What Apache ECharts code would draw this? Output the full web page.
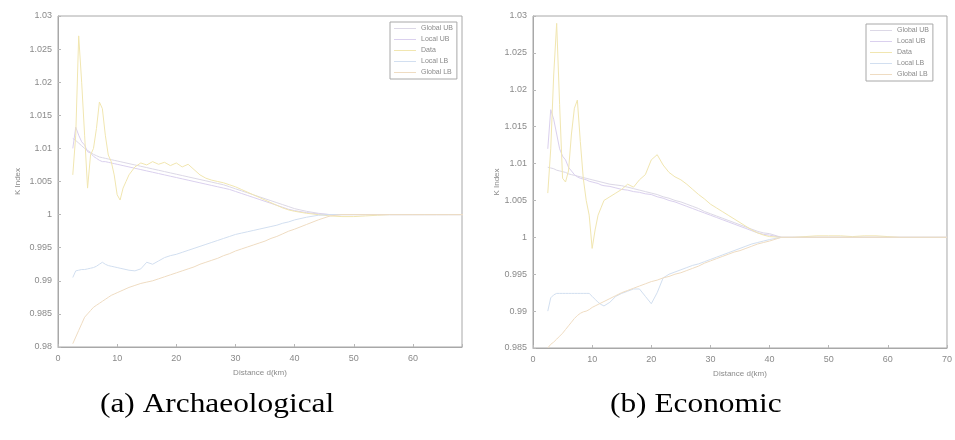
<!DOCTYPE html>
<html>
<head>
<meta charset="utf-8">
<script src="https://cdn.jsdelivr.net/npm/echarts@6/dist/echarts.min.js"></script>
<style>html,body{margin:0;padding:0;background:#fff;}#c{width:955px;height:440px;}</style>
</head>
<body>
<div id="c"></div>
<script>
const seriesNames = ['Global UB', 'Local UB', 'Data', 'Local LB', 'Global LB'];
const captions = ['(a) Archaeological', '(b) Economic'];
const xName = 'Distance d(km)';
const yName = 'K Index';

const dist = [2.5,3,3.5,4,4.5,5,5.5,6,6.5,7,7.5,8,8.5,9,9.5,10,10.5,11,11.5,12,
  13,14,15,16,17,18,19,20,21,22,23,24,25,26,27,28,29,30,31,32,33,34,35,36,37,38,39,40,
  42,44,46,48,50,52,54,56,58,60,62,64,66,68,70];

// (a) Archaeological
const globalUbA = [1.0115,1.0112,1.0108,1.0104,1.0100,1.0097,1.0094,1.0091,1.0089,1.0087,1.0086,1.0085,1.0084,1.0083,1.0082,1.0081,1.0080,1.0079,1.0078,1.0077,
  1.0075,1.0073,1.0071,1.0069,1.0067,1.0065,1.0063,1.0061,1.0059,1.0057,1.0055,1.0053,1.0051,1.0049,1.0047,1.0045,1.0042,1.0039,1.0036,1.0033,1.0030,1.0027,1.0024,1.0021,1.0018,1.0015,1.0012,1.0009,
  1.0005,1.0002,1.0,1.0,1.0,1.0,1.0,1.0,1.0,1.0,1.0,1.0,1.0,1.0,1.0];
const localUbA = [1.010,1.0132,1.012,1.011,1.0105,1.0095,1.0093,1.0088,1.0085,1.0082,1.0080,1.0080,1.0079,1.0078,1.0077,1.0076,1.0075,1.0074,1.0073,1.0072,
  1.0070,1.0068,1.0066,1.0064,1.0062,1.0060,1.0058,1.0056,1.0054,1.0052,1.0050,1.0048,1.0046,1.0044,1.0042,1.0040,1.0038,1.0035,1.0032,1.0029,1.0026,1.0023,1.0020,1.0017,1.0014,1.0011,1.0008,1.0006,
  1.0003,1.0001,1.0,1.0,1.0,1.0,1.0,1.0,1.0,1.0,1.0,1.0,1.0,1.0,1.0];
const dataA = [1.006,1.012,1.027,1.020,1.012,1.004,1.009,1.010,1.013,1.017,1.016,1.012,1.009,1.008,1.006,1.003,1.0022,1.004,1.005,1.006,
  1.0072,1.0078,1.0075,1.0080,1.0076,1.0079,1.0074,1.0078,1.0072,1.0076,1.0068,1.0060,1.0055,1.0052,1.0050,1.0048,1.0045,1.0042,1.0038,1.0034,1.0030,1.0026,1.0022,1.0018,1.0014,1.0010,1.0007,1.0005,
  1.0002,1.0000,0.9998,0.9997,0.9997,0.9998,0.9999,1.0,1.0,1.0,1.0,1.0,1.0,1.0,1.0];
const localLbA = [0.9905,0.9915,0.9916,0.9917,0.9917,0.9918,0.9919,0.9920,0.9922,0.9925,0.9928,0.9925,0.9923,0.9922,0.9921,0.9920,0.9919,0.9918,0.9917,0.9916,
  0.9915,0.9918,0.9928,0.9925,0.9930,0.9935,0.9938,0.9940,0.9943,0.9946,0.9949,0.9952,0.9955,0.9958,0.9961,0.9964,0.9967,0.9970,0.9972,0.9974,0.9976,0.9978,0.9980,0.9982,0.9984,0.9987,0.9989,0.9992,
  0.9996,0.9999,1.0,1.0,1.0,1.0,1.0,1.0,1.0,1.0,1.0,1.0,1.0,1.0,1.0];
const globalLbA = [0.9805,0.9815,0.9825,0.9835,0.9845,0.9850,0.9855,0.9860,0.9863,0.9866,0.9869,0.9872,0.9875,0.9878,0.9880,0.9882,0.9884,0.9886,0.9888,0.9890,
  0.9893,0.9896,0.9898,0.9900,0.9903,0.9906,0.9909,0.9912,0.9915,0.9918,0.9921,0.9925,0.9928,0.9931,0.9934,0.9938,0.9941,0.9945,0.9948,0.9951,0.9954,0.9957,0.9960,0.9964,0.9967,0.9971,0.9975,0.9978,
  0.9985,0.9992,0.9998,1.0,1.0,1.0,1.0,1.0,1.0,1.0,1.0,1.0,1.0,1.0,1.0];

// (b) Economic
const globalUbB = [1.0095,1.0094,1.0093,1.0091,1.0090,1.0089,1.0088,1.0086,1.0085,1.0084,1.0083,1.0082,1.0081,1.0080,1.0079,1.0078,1.0077,1.0076,1.0075,1.0074,
  1.0072,1.0071,1.0070,1.0068,1.0066,1.0064,1.0062,1.0060,1.0058,1.0055,1.0053,1.0050,1.0048,1.0045,1.0042,1.0039,1.0035,1.0032,1.0029,1.0026,1.0023,1.0020,1.0017,1.0014,1.0011,1.0008,1.0006,1.0005,
  1.0,1.0,1.0,1.0,1.0,1.0,1.0,1.0,1.0,1.0,1.0,1.0,1.0,1.0,1.0];
const localUbB = [1.012,1.0173,1.016,1.014,1.012,1.011,1.0105,1.0095,1.0090,1.0085,1.0082,1.0080,1.0079,1.0078,1.0076,1.0075,1.0074,1.0073,1.0071,1.0070,
  1.0069,1.0067,1.0065,1.0064,1.0062,1.0061,1.0059,1.0058,1.0055,1.0053,1.0050,1.0048,1.0045,1.0042,1.0039,1.0036,1.0033,1.0030,1.0027,1.0024,1.0021,1.0018,1.0015,1.0012,1.0009,1.0006,1.0004,1.0003,
  1.0,1.0,1.0,1.0,1.0,1.0,1.0,1.0,1.0,1.0,1.0,1.0,1.0,1.0,1.0];
const dataB = [1.006,1.012,1.022,1.029,1.018,1.008,1.0075,1.009,1.014,1.0175,1.0186,1.013,1.008,1.005,1.003,0.9985,1.001,1.003,1.004,1.005,
  1.0055,1.0060,1.0065,1.0072,1.0068,1.0078,1.0085,1.0105,1.0112,1.0098,1.0088,1.0082,1.0078,1.0072,1.0065,1.0058,1.0052,1.0045,1.0040,1.0035,1.0030,1.0025,1.0020,1.0015,1.0010,1.0006,1.0003,1.0001,
  1.0,1.0,1.0001,1.0002,1.0002,1.0002,1.0001,1.0002,1.0002,1.0001,1.0,1.0,1.0,1.0,1.0];
const localLbB = [0.9900,0.9918,0.9922,0.9924,0.9924,0.9924,0.9924,0.9924,0.9924,0.9924,0.9924,0.9924,0.9924,0.9924,0.9924,0.9920,0.9916,0.9912,0.9909,0.9907,
  0.9912,0.9920,0.9924,0.9927,0.9930,0.9930,0.9920,0.9910,0.9925,0.9945,0.9950,0.9953,0.9956,0.9959,0.9962,0.9964,0.9967,0.9970,0.9973,0.9976,0.9979,0.9982,0.9985,0.9988,0.9991,0.9993,0.9995,0.9997,
  1.0,1.0,1.0,1.0,1.0,1.0,1.0,1.0,1.0,1.0,1.0,1.0,1.0,1.0,1.0];
const globalLbB = [0.9850,0.9855,0.9858,0.9862,0.9866,0.9870,0.9875,0.9880,0.9885,0.9890,0.9894,0.9897,0.9899,0.9900,0.9902,0.9905,0.9907,0.9909,0.9911,0.9913,
  0.9917,0.9921,0.9925,0.9928,0.9931,0.9934,0.9937,0.9940,0.9942,0.9945,0.9947,0.9950,0.9952,0.9955,0.9958,0.9961,0.9965,0.9968,0.9971,0.9974,0.9977,0.9980,0.9982,0.9985,0.9988,0.9991,0.9993,0.9995,
  1.0,1.0,1.0,1.0,1.0,1.0,1.0,1.0,1.0,1.0,1.0,1.0,1.0,1.0,1.0];

const colors = ['#dcd8e6', '#dad0ee', '#f1e6b0', '#d2dff0', '#efdcc2'];
const panelA = [globalUbA, localUbA, dataA, localLbA, globalLbA];
const panelB = [globalUbB, localUbB, dataB, localLbB, globalLbB];

const zip = arr => dist.map((d, i) => [d, arr[i]]);

const axisCommon = {
  axisLine: { lineStyle: { color: '#a8a8a8', width: 1 } },
  axisTick: { inside: true, length: 3, lineStyle: { color: '#b8b8b8' } },
  splitLine: { show: false },
  axisLabel: { color: '#8a8a8a', fontSize: 9, fontFamily: 'Liberation Sans' },
  nameTextStyle: { color: '#8a8a8a', fontSize: 8, fontFamily: 'Liberation Sans' }
};

function xAxis(gi, max) {
  return Object.assign({}, axisCommon, {
    type: 'value', gridIndex: gi, min: 0, max: max, interval: 10,
    name: xName, nameLocation: 'middle', nameGap: 22,
    axisLabel: Object.assign({}, axisCommon.axisLabel, {
      margin: 7,
      formatter: v => (Math.abs(v % 10) < 1e-6 ? String(v) : '')
    })
  });
}
function yAxis(gi, min, gap) {
  return Object.assign({}, axisCommon, {
    type: 'value', gridIndex: gi, min: min, max: 1.03, interval: 0.005,
    name: yName, nameLocation: 'middle', nameGap: gap,
    axisLabel: Object.assign({}, axisCommon.axisLabel, {
      margin: 6,
      formatter: v => String(+v.toFixed(4))
    })
  });
}

const series = [];
[panelA, panelB].forEach((panel, gi) => {
  panel.forEach((arr, si) => {
    series.push({
      name: seriesNames[si], type: 'line', xAxisIndex: gi, yAxisIndex: gi,
      data: zip(arr), showSymbol: false, symbol: 'none', animation: false,
      lineStyle: { color: colors[si], width: 1 }, itemStyle: { color: colors[si] }
    });
  });
});

function legend(left, top) {
  return {
    data: seriesNames, orient: 'vertical', left: left, top: top,
    icon: 'rect', itemWidth: 22, itemHeight: 1, itemGap: 4,
    padding: [3, 4, 3, 4], borderColor: '#a8a8a8', borderWidth: 1,
    backgroundColor: '#fff',
    textStyle: { color: '#8a8a8a', fontSize: 7, fontFamily: 'Liberation Sans' },
    selectedMode: false
  };
}

const chart = echarts.init(document.getElementById('c'), null, { renderer: 'canvas' });
chart.setOption({
  animation: false,
  backgroundColor: '#fff',
  grid: [
    { left: 58, top: 16, width: 404, height: 331, show: true, borderColor: '#a8a8a8', borderWidth: 1 },
    { left: 533, top: 16, width: 417, height: 332, show: true, borderColor: '#a8a8a8', borderWidth: 1 }
  ],
  xAxis: [xAxis(0, 68.3), xAxis(1, 70)],
  yAxis: [yAxis(0, 0.98, 36), yAxis(1, 0.985, 32)],
  legend: [legend(390, 22), legend(866, 24)],
  series: series,
  graphic: [
    { type: 'text', x: 100, y: 391, scaleX: 1.12, style: { text: captions[0], font: '28px "Liberation Serif"', fill: '#000' } },
    { type: 'text', x: 610, y: 391, scaleX: 1.12, style: { text: captions[1], font: '28px "Liberation Serif"', fill: '#000' } }
  ]
});
</script>
</body>
</html>
